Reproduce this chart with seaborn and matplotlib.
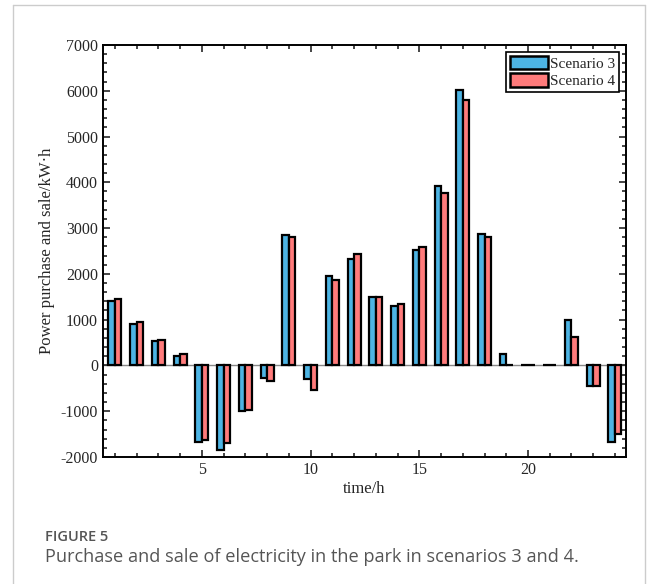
import numpy as np
import pandas as pd
import matplotlib
matplotlib.use('Agg')
import matplotlib.pyplot as plt
import seaborn as sns
from matplotlib.ticker import MultipleLocator
from matplotlib.lines import Line2D

# ── Data ────────────────────────────────────────────────────────────────────
hours = list(range(1, 25))
scenario_3 = [1400, 910, 525, 205, -1680, -1840, -985, -280, 2850, -300, 1950, 2320,
              1505, 1290, 2520, 3910, 6020, 2860, 255, 0, 0, 985, -460, -1680]
scenario_4 = [1455, 955, 555, 250, -1640, -1695, -970, -340, 2810, -530, 1870, 2440,
              1485, 1345, 2585, 3765, 5800, 2805, 10, 0, 0, 620, -445, -1490]
series_names = ['Scenario 3', 'Scenario 4']
colors = ['#4DB4E4', '#FF7B7B']

df = pd.DataFrame({
    'hour': hours * 2,
    'value': scenario_3 + scenario_4,
    'scenario': [series_names[0]] * 24 + [series_names[1]] * 24,
})

# ── Style ───────────────────────────────────────────────────────────────────
sns.set_style('ticks')
plt.rcParams['font.family'] = ['Liberation Serif', 'DejaVu Serif']
plt.rcParams['axes.unicode_minus'] = False
plt.rcParams['xtick.direction'] = 'in'
plt.rcParams['ytick.direction'] = 'in'

fig = plt.figure(figsize=(6.56, 5.84), dpi=100)
ax = fig.add_axes([0.157, 0.2175, 0.797, 0.7055])

sns.barplot(data=df, x='hour', y='value', hue='scenario', native_scale=True,
            palette=colors, width=0.6, gap=0, edgecolor='black', linewidth=1.6,
            saturation=1, ax=ax, legend=False)

ax.axhline(0, color='#888888', lw=1.0, zorder=0.5)

ax.set_xlim(0.45, 24.5)
ax.set_ylim(-2000, 7000)
ax.xaxis.set_major_locator(MultipleLocator(5))
ax.xaxis.set_minor_locator(MultipleLocator(1))
ax.yaxis.set_major_locator(MultipleLocator(1000))
ax.yaxis.set_minor_locator(MultipleLocator(200))
ax.tick_params(which='both', top=True, right=True, width=1.2, labelsize=11.5)
ax.tick_params(which='major', length=5)
ax.tick_params(which='minor', length=3)
for s in ax.spines.values():
    s.set_linewidth(1.4)
    s.set_color('black')

ax.set_xlabel('time/h', fontsize=12, labelpad=2)
ax.set_ylabel('Power purchase and sale/kW·h', fontsize=12, labelpad=4)

handles = [plt.Rectangle((0, 0), 1, 1, facecolor=c, edgecolor='black', lw=1.8)
           for c in colors]
leg = ax.legend(handles, series_names, loc='upper right', fontsize=11,
                frameon=True, fancybox=False, framealpha=1, edgecolor='black',
                handlelength=2.5, handleheight=1.0, handletextpad=0.1,
                borderpad=0.25, labelspacing=0.15, borderaxespad=0.45)
leg.get_frame().set_linewidth(1.2)

# ── Caption and page frame ──────────────────────────────────────────────────
fig.add_artist(Line2D([13 / 656, 13 / 656], [0, 1 - 5 / 584], color='#cccccc', lw=1))
fig.add_artist(Line2D([645 / 656, 645 / 656], [0, 1 - 5 / 584], color='#cccccc', lw=1))
fig.add_artist(Line2D([13 / 656, 645 / 656], [1 - 5 / 584, 1 - 5 / 584], color='#cccccc', lw=1))

fig.text(45 / 656, 1 - 537 / 584, 'FIGURE 5', family=['Open Sans', 'DejaVu Sans'],
         fontsize=10.5, color='#555555', va='center', ha='left', weight='semibold')
fig.text(45 / 656, 1 - 557 / 584,
         'Purchase and sale of electricity in the park in scenarios 3 and 4.',
         family=['Open Sans', 'DejaVu Sans'], fontsize=13.1, color='#555555',
         va='center', ha='left')

fig.savefig('out.png', dpi=100)
